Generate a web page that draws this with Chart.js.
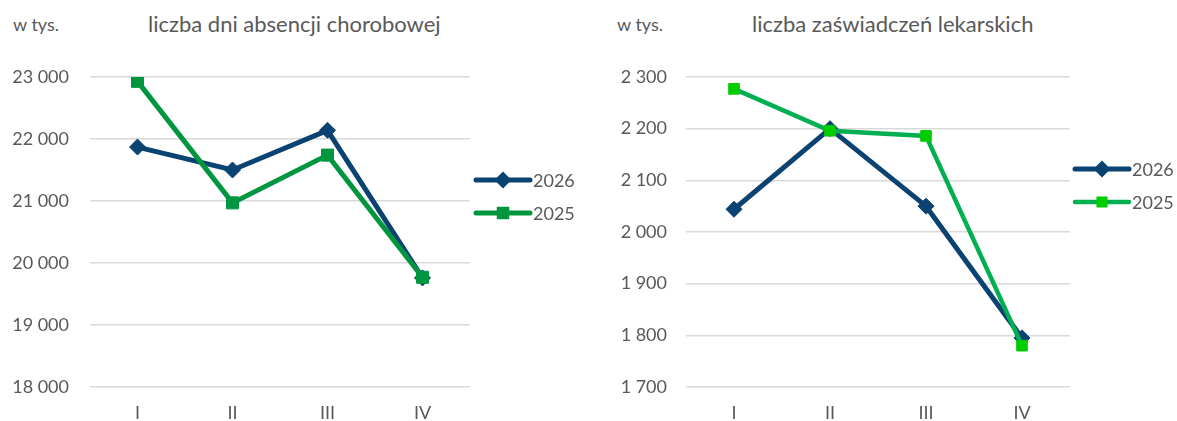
<!DOCTYPE html>
<html lang="pl">
<head>
<meta charset="utf-8">
<title>Absencja chorobowa</title>
<script src="https://cdn.jsdelivr.net/npm/chart.js"></script>
<style>
  body { margin: 0; background: #fff; font-family: Lato, sans-serif; color: #595959; }
  .panel { position: absolute; top: 0; height: 421px; }
  .panel canvas { position: absolute; left: 0; top: 0; }
  .unit, .title { position: absolute; white-space: nowrap; line-height: 1; }
  .unit { font-size: 18px; top: 15px; }
  .title { font-size: 22px; top: 13px; }
</style>
</head>
<body>

<div class="panel" id="leftPanel" style="left:0;width:590px;">
  <div class="unit" style="left:13px;">w tys.</div>
  <div class="title" style="left:148px;">liczba dni absencji chorobowej</div>
  <canvas id="absenceChart" width="590" height="421"></canvas>
</div>

<div class="panel" id="rightPanel" style="left:590px;width:587px;">
  <div class="unit" style="left:27px;">w tys.</div>
  <div class="title" style="left:162px;">liczba zaświadczeń lekarskich</div>
  <canvas id="certChart" width="587" height="421"></canvas>
</div>

<script>
// ── DATA ─────────────────────────────────────────────────────
const quarters = ['I', 'II', 'III', 'IV'];
const seriesNames = ['2026', '2025'];

// liczba dni absencji chorobowej (w tys.)
const absence2026 = [21870, 21500, 22140, 19760];
const absence2025 = [22930, 20970, 21740, 19770];
const absenceAxis = { min: 18000, max: 23000, step: 1000 };

// liczba zaświadczeń lekarskich (w tys.)
const certs2026 = [2044, 2200, 2050, 1795];
const certs2025 = [2277, 2196, 2186, 1780];
const certsAxis = { min: 1700, max: 2300, step: 100 };

// ── HELPERS ──────────────────────────────────────────────────
const NAVY = '#0A4271';
const FONT = 'Lato, sans-serif';
const GREY = '#595959';

// "23 000", "2 300"
const fmt = (v) => String(v).replace(/\B(?=(\d{3})+(?!\d))/g, ' ');

// Legend drawn at the side: line sample + marker + year
const sideLegend = {
  id: 'sideLegend',
  afterDraw(chart, args, opts) {
    const ctx = chart.ctx;
    ctx.save();
    opts.rows.forEach((row) => {
      const ds = chart.data.datasets[row.index];
      const x0 = opts.x, x1 = opts.x + opts.len;
      ctx.strokeStyle = ds.borderColor;
      ctx.lineWidth = ds.borderWidth;
      ctx.lineCap = 'round';
      ctx.beginPath();
      ctx.moveTo(x0, row.y);
      ctx.lineTo(x1, row.y);
      ctx.stroke();
      ctx.fillStyle = ds.pointBackgroundColor;
      ctx.strokeStyle = ds.pointBorderColor;
      Chart.helpers.drawPoint(ctx, {
        pointStyle: ds.pointStyle,
        radius: ds.pointRadius * 0.62,
        borderWidth: 1,
        rotation: 0
      }, (x0 + x1) / 2, row.y);
      ctx.fillStyle = GREY;
      ctx.font = '18px ' + FONT;
      ctx.textBaseline = 'middle';
      ctx.textAlign = 'left';
      ctx.fillText(ds.label, x1 + 3, row.y + 1);
    });
    ctx.restore();
  }
};

function makeChart(canvasId, data26, data25, axis, look) {
  return new Chart(document.getElementById(canvasId), {
    type: 'line',
    data: {
      labels: quarters,
      datasets: [
        {
          label: seriesNames[0],
          data: data26,
          borderColor: NAVY,
          backgroundColor: NAVY,
          pointBackgroundColor: NAVY,
          pointBorderColor: NAVY,
          borderWidth: 5,
          pointStyle: 'rectRot',
          pointRadius: 8,
          pointBorderWidth: 1,
          tension: 0,
          order: 1
        },
        {
          label: seriesNames[1],
          data: data25,
          borderColor: look.green,
          backgroundColor: look.marker,
          pointBackgroundColor: look.marker,
          pointBorderColor: look.marker,
          borderWidth: look.greenWidth,
          pointStyle: 'rect',
          pointRadius: look.squareRadius,
          pointBorderWidth: 1,
          tension: 0,
          order: 0
        }
      ]
    },
    options: {
      responsive: false,
      animation: false,
      layout: { padding: { top: 77, right: look.padRight, left: 0, bottom: 0 } },
      plugins: {
        legend: { display: false },
        title: { display: false },
        tooltip: { enabled: false },
        sideLegend: {
          x: look.legendX,
          len: 54,
          rows: [{ index: 0, y: look.legendY[0] }, { index: 1, y: look.legendY[1] }]
        }
      },
      scales: {
        x: {
          offset: true,
          grid: { display: false, drawTicks: false },
          border: { display: false },
          ticks: { color: GREY, font: { family: FONT, size: 18 }, padding: 15 },
          afterFit: (scale) => { scale.height = 34; }
        },
        y: {
          min: axis.min,
          max: axis.max,
          afterFit: (scale) => {
            scale.width = look.axisWidth;
            scale.paddingTop = 0;
            scale.paddingBottom = 0;
          },
          grid: { color: '#D9D9D9', lineWidth: 1.5, drawTicks: false },
          border: { display: false },
          ticks: {
            stepSize: axis.step,
            color: GREY,
            font: { family: FONT, size: 18 },
            padding: look.tickPad,
            callback: (v) => fmt(v)
          }
        }
      }
    },
    plugins: [sideLegend]
  });
}

// ── CHART 1: liczba dni absencji chorobowej ───────────────────
makeChart('absenceChart', absence2026, absence2025, absenceAxis, {
  green: '#00963F', marker: '#00963F', greenWidth: 5, squareRadius: 8.5,
  padRight: 120, axisWidth: 90, tickPad: 21,
  legendX: 476, legendY: [180, 213]
});

// ── CHART 2: liczba zaświadczeń lekarskich ────────────────────
makeChart('certChart', certs2026, certs2025, certsAxis, {
  green: '#00B050', marker: '#00CC00', greenWidth: 4.5, squareRadius: 7.5,
  padRight: 107, axisWidth: 96, tickPad: 19,
  legendX: 485, legendY: [169, 202]
});
</script>
</body>
</html>
